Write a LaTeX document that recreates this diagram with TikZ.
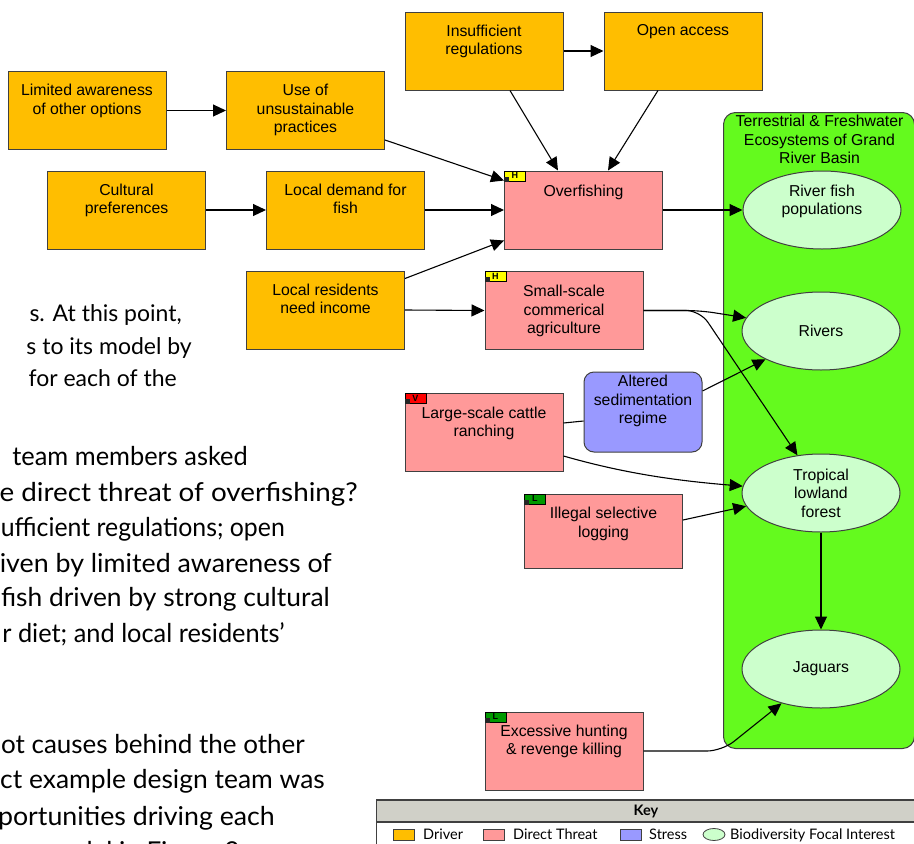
\documentclass[tikz,border=0pt]{standalone}
\usepackage{fontspec}
\usepackage{graphicx}
\setmainfont{Liberation Sans}
\newfontfamily\bodyfont{Lato}
\usetikzlibrary{arrows.meta,shapes.geometric,calc}

\definecolor{drv}{RGB}{255,190,0}
\definecolor{thr}{RGB}{255,153,153}
\definecolor{strs}{RGB}{153,153,255}
\definecolor{tgt}{RGB}{204,255,204}
\definecolor{grn}{RGB}{100,250,30}
\definecolor{bdr}{RGB}{64,64,64}
\definecolor{keyg}{RGB}{208,208,200}
\definecolor{tagy}{RGB}{255,255,0}
\definecolor{tagr}{RGB}{255,0,0}
\definecolor{tagg}{RGB}{0,153,0}

\begin{document}
\begin{tikzpicture}[x=1pt,y=-1pt,
 box/.style={draw=bdr, line width=1pt, minimum width=158pt, minimum height=78pt, inner sep=0pt},
 driver/.style={box, fill=drv},
 threat/.style={box, fill=thr},
 stressbox/.style={draw=bdr, line width=1pt, fill=strs, rounded corners=10pt, minimum width=118pt, minimum height=80pt, inner sep=0pt},
 target/.style={ellipse, draw=bdr, line width=1pt, fill=tgt, minimum width=158pt, minimum height=78pt, inner sep=0pt, align=center, font=\fontsize{15.8}{18.5}\selectfont},
 lbl/.style={anchor=north, align=center, inner sep=0pt, font=\fontsize{15.8}{18.5}\selectfont},
 arr/.style={-{Triangle[length=13pt,width=12pt]}, line width=1.1pt, black},
 plain/.style={line width=1.1pt, black},
 tag/.style={draw=black, line width=0.6pt, minimum width=21pt, minimum height=10pt, inner sep=0pt, font=\fontsize{9}{9}\selectfont\bfseries, anchor=north west},
 bodyA/.style={anchor=base east, inner sep=0pt, font=\bodyfont\fontsize{23}{23}\selectfont},
 body/.style={anchor=base east, inner sep=0pt, font=\bodyfont\fontsize{26}{26}\selectfont},
 keytxt/.style={anchor=base west, inner sep=0pt, font=\bodyfont\fontsize{14.5}{14.5}\selectfont},
 swatch/.style={draw=bdr, line width=0.8pt, minimum width=21pt, minimum height=11pt, inner sep=0pt},
]
\useasboundingbox (0,0) rectangle (914,844);
\clip (0,0) rectangle (914,844);
\fill[white] (0,0) rectangle (914,844);

% body text fragments
\node[bodyA] (p1a) at (182,321) {s. At this point,};
\node[bodyA] (p1b) at (192,354) {s to its model by};
\node[bodyA] (p1c) at (177,386) {for each of the};
\node[body] (p2a) at (248,465) {\scalebox{0.977}[1]{team members asked}};
\node[body] (p2b) at (358,501) {\scalebox{1.07}[1]{e direct threat of overfishing?}};
\node[body] (p2c) at (285,536) {\scalebox{0.955}[1]{ufficient regulations; open}};
\node[body] (p2d) at (332,572) {\scalebox{1.03}[1]{iven by limited awareness of}};
\node[body] (p2e) at (330,606) {\scalebox{1.015}[1]{fish driven by strong cultural}};
\node[body] (p2f) at (285,642) {\scalebox{0.975}[1]{r diet; and local residents’}};
\node[body] (p3a) at (305,753) {ot causes behind the other};
\node[body] (p3b) at (325,788) {\scalebox{1.017}[1]{ct example design team was}};
\node[body] (p3c) at (275,825) {\scalebox{1.028}[1]{portunities driving each}};
\node[body] (p3d) at (240,860) {model in Figure 9};

% ecosystem container
\node[draw=bdr, line width=1pt, fill=grn, rounded corners=12pt, minimum width=191pt, minimum height=636pt, anchor=north west, inner sep=0pt] (eco) at (723,112) {};
\node[lbl] (ecot) at (819.5,115) {Terrestrial \& Freshwater\\Ecosystems of Grand\\River Basin};

% drivers
\node[driver] (lim) at (87,110.5) {};
\node[driver] (use) at (305.5,110.5) {};
\node[driver] (cul) at (126.5,210) {};
\node[driver] (dem) at (345.5,210) {};
\node[driver] (ins) at (484,51) {};
\node[driver] (open) at (683,51) {};
\node[driver] (res) at (325.5,310) {};
\node[lbl] (limt) at ($(lim.north)+(0,13)$) {Limited awareness\\of other options};
\node[lbl] (uset) at ($(use.north)+(0,13)$) {Use of\\unsustainable\\practices};
\node[lbl] (cult) at ($(cul.north)+(0,13)$) {Cultural\\preferences};
\node[lbl] (demt) at ($(dem.north)+(0,13)$) {Local demand for\\fish};
\node[lbl] (inst) at ($(ins.north)+(0,13)$) {Insufficient\\regulations};
\node[lbl] (opent) at ($(open.north)+(0,13)$) {Open access};
\node[lbl] (rest) at ($(res.north)+(0,13)$) {Local residents\\need income};

% threats
\node[threat] (over) at (583.5,210) {};
\node[threat] (small) at (564,310.5) {};
\node[threat] (cattle) at (484,432.5) {};
\node[threat, minimum height=74pt] (log) at (603.5,531) {};
\node[threat] (hunt) at (564,751) {};
\node[lbl] (overt) at ($(over.north)+(0,14)$) {Overfishing};
\node[lbl] (smallt) at ($(small.north)+(0,14)$) {Small-scale\\commerical\\agriculture};
\node[lbl] (cattlet) at ($(cattle.north)+(0,13.5)$) {Large-scale cattle\\ranching};
\node[lbl] (logt) at ($(log.north)+(0,13.5)$) {Illegal selective\\logging};
\node[lbl] (huntt) at ($(hunt.north)+(0,13)$) {Excessive hunting\\\& revenge killing};

% tags
\node[tag, fill=tagy] (overtag) at (over.north west) {H};
\node[tag, fill=tagy] (smalltag) at (small.north west) {H};
\node[tag, fill=tagr] (cattletag) at (cattle.north west) {V};
\node[tag, fill=tagg] (logtag) at (log.north west) {L};
\node[tag, fill=tagg] (hunttag) at (hunt.north west) {L};
\foreach \t in {over,small,cattle,log,hunt}{
  \fill[black!85] ($(\t.north west)+(0,6)$) rectangle ++(5,5);
}

% stress
\node[stressbox] (stress) at (643,412) {};
\node[lbl] (stresst) at ($(stress.north)+(0,3.5)$) {Altered\\sedimentation\\regime};

% targets
\node[target] (fish) at (822,210) {};
\node[lbl] (fisht) at ($(fish.north)+(0,14)$) {River fish\\populations};
\node[target] (rivers) at (821,331) {Rivers};
\node[target] (forest) at (821,493) {Tropical\\lowland\\forest};
\node[target] (jag) at (821,669) {Jaguars};

% bend points
\coordinate (b1) at (700,310.5);
\coordinate (b3) at (722,751);

% connectors
\draw[arr] (lim.east) -- (use.west);
\draw[arr] ($(use.south east)+(0,-10)$) -- ($(over.north west)+(0,10)$);
\draw[arr] (cul.east) -- (dem.west);
\draw[arr] (dem.east) -- (over.west);
\draw[arr] ($(res.north east)+(0,8)$) -- ($(over.south west)+(0,-9)$);
\draw[arr] (res.east) -- (small.west);
\draw[arr] ($(ins.south)+(26,0)$) -- ($(over.north)+(-25.5,0)$);
\draw[arr] ($(open.south)+(-25,0)$) -- ($(over.north)+(24.5,0)$);
\draw[arr] (ins.east) -- (open.west);
\draw[arr] (over.east) -- (fish.west);
\draw[arr, rounded corners=14pt] (small.east) -- (b1) -- (rivers.170);
\draw[arr, rounded corners=14pt] (small.east) -- (b1) -- (forest.122);
\draw[arr] ($(stress.east)+(0,-21)$) -- (rivers.207);
\draw[plain] ($(cattle.east)+(0,-9.5)$) -- ($(stress.west)+(0,9)$);
\draw[arr] ($(cattle.east)+(0,23.5)$) .. controls (623,473) and (674,480.5) .. (forest.175);
\draw[arr] ($(log.east)+(0,-11)$) -- (forest.190);
\draw[arr] (forest.south) -- (jag.north);
\draw[arr, rounded corners=15pt] (hunt.east) -- (b3) -- (jag.221);

% key
\node[fill=keyg, minimum width=540pt, minimum height=22pt, inner sep=0pt, anchor=north west] (keyhead) at (376,800) {};
\node[font=\bodyfont\bfseries\fontsize{14.5}{14.5}\selectfont, inner sep=0pt] (keyt) at (646,811.5) {Key};
\draw[line width=2pt, bdr] (376,800) -- (916,800);
\draw[line width=1.5pt, bdr] (376,822) -- (916,822);
\draw[line width=1pt, bdr] (376,800) -- (376,846);
\node[swatch, fill=drv] (kd) at (403.5,834.5) {};
\node[keytxt] (kdt) at (423,839) {Driver};
\node[swatch, fill=thr] (kt) at (494,834.5) {};
\node[keytxt] (ktt) at (513,839) {Direct Threat};
\node[swatch, fill=strs] (ks) at (630.5,834.5) {};
\node[keytxt] (kst) at (649,839) {Stress};
\node[ellipse, draw=bdr, line width=0.8pt, fill=tgt, minimum width=22pt, minimum height=12pt, inner sep=0pt] (ke) at (714,834.5) {};
\node[keytxt] (ket) at (730,839) {Biodiversity Focal Interest};
\end{tikzpicture}
\end{document}
